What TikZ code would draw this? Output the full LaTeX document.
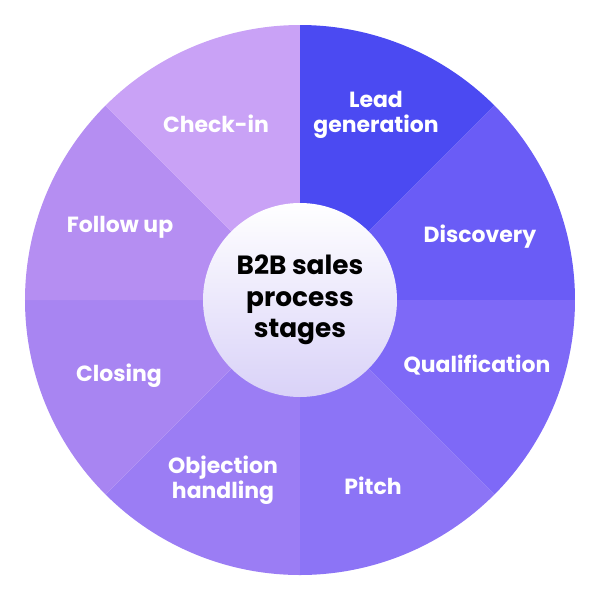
\documentclass[tikz,border=0pt]{standalone}
\usepackage{fontspec}
\setmainfont{Poppins}
\usetikzlibrary{positioning}
\definecolor{leadColor}{HTML}{4B4AF2}
\definecolor{discoveryColor}{HTML}{6A5CF6}
\definecolor{qualColor}{HTML}{7E69F7}
\definecolor{pitchColor}{HTML}{8C74F6}
\definecolor{objectionColor}{HTML}{9B7DF4}
\definecolor{closingColor}{HTML}{A885F2}
\definecolor{followColor}{HTML}{B58EF2}
\definecolor{checkColor}{HTML}{C9A2F6}
\definecolor{hubBottom}{HTML}{D9D2F8}
\tikzstyle{wheel} = [x = 0.02cm, y = -0.02cm]
\tikzstyle{sectorStyle} = [draw=none]
\tikzstyle{stageText} = [font=\bfseries\fontsize{12.5}{14}\selectfont, text=white, align=center]
\tikzstyle{hubText} = [font=\bfseries\fontsize{15}{18}\selectfont, text=black, align=center]
% y points down, so angles are mirrored
\newcommand{\sector}[3]{\fill [sectorStyle, #3] (300,300) -- +(-#1:275) arc (-#1:-#2:275) -- cycle;}
\begin{document}
\begin{tikzpicture}[wheel]
  \useasboundingbox (0,0) rectangle (600,600);
  % sectors, clockwise from the top
  \sector{90}{45}{leadColor}
  \sector{45}{0}{discoveryColor}
  \sector{0}{-45}{qualColor}
  \sector{-45}{-90}{pitchColor}
  \sector{-90}{-135}{objectionColor}
  \sector{-135}{-180}{closingColor}
  \sector{180}{135}{followColor}
  \sector{135}{90}{checkColor}
  % hub
  \shade [top color=white, bottom color=hubBottom] (300,300) circle (97);
  \node [hubText] (hub) at (300,300) {B2B sales\\process\\stages};
  % stage labels
  \node [stageText] (lead) at (376,115) {Lead\\generation};
  \node [stageText] (discovery) at (480,237) {Discovery};
  \node [stageText] (qualification) at (477,365) {Qualification};
  \node [stageText] (pitch) at (373,486) {Pitch};
  \node [stageText] (objection) at (223,480) {Objection\\handling};
  \node [stageText] (closing) at (119,376) {Closing};
  \node [stageText] (follow) at (120,227) {Follow up};
  \node [stageText] (checkin) at (216,124) {Check-in};
\end{tikzpicture}
\end{document}
